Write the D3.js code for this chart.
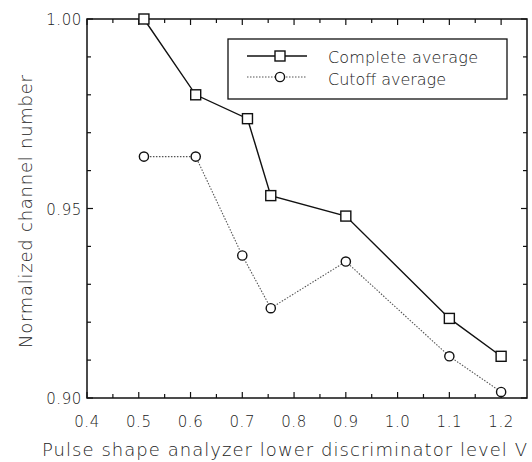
<!DOCTYPE html>
<html>
<head>
<meta charset="utf-8">
<script src="https://cdn.jsdelivr.net/npm/d3@7"></script>
<style>
  body { margin: 0; background: #fff; }
  text { font-family: "DejaVu Sans", "Liberation Sans", sans-serif; font-weight: 200; fill: #222; }
</style>
</head>
<body>
<div class="chart"></div>
<script>
const xs = [0.51, 0.61, 0.71, 0.755, 0.9, 1.1, 1.2];
const xsCutoff = [0.51, 0.61, 0.70, 0.755, 0.9, 1.1, 1.2];
const complete = [1.000, 0.980, 0.9737, 0.9534, 0.948, 0.921, 0.911];
const cutoff = [0.9637, 0.9637, 0.9376, 0.9237, 0.936, 0.911, 0.9016];
const xTicks = [0.4, 0.5, 0.6, 0.7, 0.8, 0.9, 1.0, 1.1, 1.2];
const yTicks = [0.90, 0.95, 1.00];
const seriesNames = ["Complete average", "Cutoff average"];

const W = 532, H = 462;
const pLeft = 87, pRight = 527, pTop = 19, pBottom = 398;

const svg = d3.select(".chart").append("svg")
    .attr("width", W).attr("height", H);

const x = d3.scaleLinear().domain([0.4, 1.25]).range([pLeft, pRight]);
const y = d3.scaleLinear().domain([0.90, 1.00]).range([pBottom, pTop]);

// frame
svg.append("rect")
    .attr("x", pLeft).attr("y", pTop)
    .attr("width", pRight - pLeft).attr("height", pBottom - pTop)
    .attr("fill", "none").attr("stroke", "#111").attr("stroke-width", 1.5);

// ticks (inward on all four sides)
const xMinor = d3.range(0.45, 1.25, 0.1);
const yMinor = d3.range(0.91, 1.0, 0.01).filter(v => Math.abs(v - 0.95) > 0.001);
const tk = svg.append("g").attr("stroke", "#111").attr("stroke-width", 1.2);
xTicks.concat(xMinor).forEach((v, i) => {
    const len = i < xTicks.length ? 6 : 4;
    tk.append("line").attr("x1", x(v)).attr("x2", x(v)).attr("y1", pBottom).attr("y2", pBottom - len);
    tk.append("line").attr("x1", x(v)).attr("x2", x(v)).attr("y1", pTop).attr("y2", pTop + len);
});
yTicks.concat(yMinor).forEach((v, i) => {
    const len = i < yTicks.length ? 6 : 4;
    tk.append("line").attr("y1", y(v)).attr("y2", y(v)).attr("x1", pLeft).attr("x2", pLeft + len);
    tk.append("line").attr("y1", y(v)).attr("y2", y(v)).attr("x1", pRight).attr("x2", pRight - len);
});

// tick labels
svg.selectAll(".xl").data(xTicks).enter().append("text")
    .attr("x", d => x(d)).attr("y", pBottom + 29)
    .attr("text-anchor", "middle").attr("font-size", 15)
    .attr("letter-spacing", 0.6)
    .text(d => d3.format(".1f")(d));
svg.selectAll(".yl").data(yTicks).enter().append("text")
    .attr("x", pLeft - 5).attr("y", d => y(d) + 6)
    .attr("text-anchor", "end").attr("font-size", 15)
    .attr("letter-spacing", 0.6)
    .text(d => d3.format(".2f")(d));

// axis titles
svg.append("text")
    .attr("x", 42).attr("y", 456)
    .attr("font-size", 18)
    .attr("textLength", 485).attr("lengthAdjust", "spacing")
    .text("Pulse shape analyzer lower discriminator level V");
svg.append("text")
    .attr("transform", "translate(32,348) rotate(-90)")
    .attr("font-size", 18)
    .attr("textLength", 273).attr("lengthAdjust", "spacing")
    .text("Normalized channel number");

const line = d3.line().x(d => x(d[0])).y(d => y(d[1]));
const dComplete = xs.map((v, i) => [v, complete[i]]);
const dCutoff = xsCutoff.map((v, i) => [v, cutoff[i]]);

svg.append("path").datum(dCutoff).attr("d", line)
    .attr("fill", "none").attr("stroke", "#555").attr("stroke-width", 1.1)
    .attr("stroke-dasharray", "1.5,1.5");
svg.append("path").datum(dComplete).attr("d", line)
    .attr("fill", "none").attr("stroke", "#111").attr("stroke-width", 1.4);

svg.selectAll(".sq").data(dComplete).enter().append("rect")
    .attr("x", d => x(d[0]) - 5).attr("y", d => y(d[1]) - 5)
    .attr("width", 10).attr("height", 10)
    .attr("fill", "#fff").attr("stroke", "#111").attr("stroke-width", 1.4);
svg.selectAll(".ci").data(dCutoff).enter().append("circle")
    .attr("cx", d => x(d[0])).attr("cy", d => y(d[1])).attr("r", 4.6)
    .attr("fill", "#fff").attr("stroke", "#111").attr("stroke-width", 1.4);

// legend
const lg = svg.append("g");
lg.append("rect").attr("x", 228).attr("y", 39).attr("width", 279).attr("height", 60)
    .attr("fill", "#fff").attr("stroke", "#111").attr("stroke-width", 1.3);
lg.append("line").attr("x1", 247).attr("x2", 307).attr("y1", 56).attr("y2", 56)
    .attr("stroke", "#111").attr("stroke-width", 1.4);
lg.append("rect").attr("x", 275).attr("y", 51).attr("width", 10).attr("height", 10)
    .attr("fill", "#fff").attr("stroke", "#111").attr("stroke-width", 1.4);
lg.append("line").attr("x1", 247).attr("x2", 307).attr("y1", 77).attr("y2", 77)
    .attr("stroke", "#555").attr("stroke-width", 1.1).attr("stroke-dasharray", "1.5,1.5");
lg.append("circle").attr("cx", 280).attr("cy", 77).attr("r", 4.6)
    .attr("fill", "#fff").attr("stroke", "#111").attr("stroke-width", 1.4);
const legendLen = [150, 118];
lg.selectAll(".lt").data(seriesNames).enter().append("text")
    .attr("x", 328).attr("y", (d, i) => 63 + i * 22)
    .attr("font-size", 16)
    .attr("textLength", (d, i) => legendLen[i]).attr("lengthAdjust", "spacing")
    .text(d => d);
</script>
</body>
</html>
